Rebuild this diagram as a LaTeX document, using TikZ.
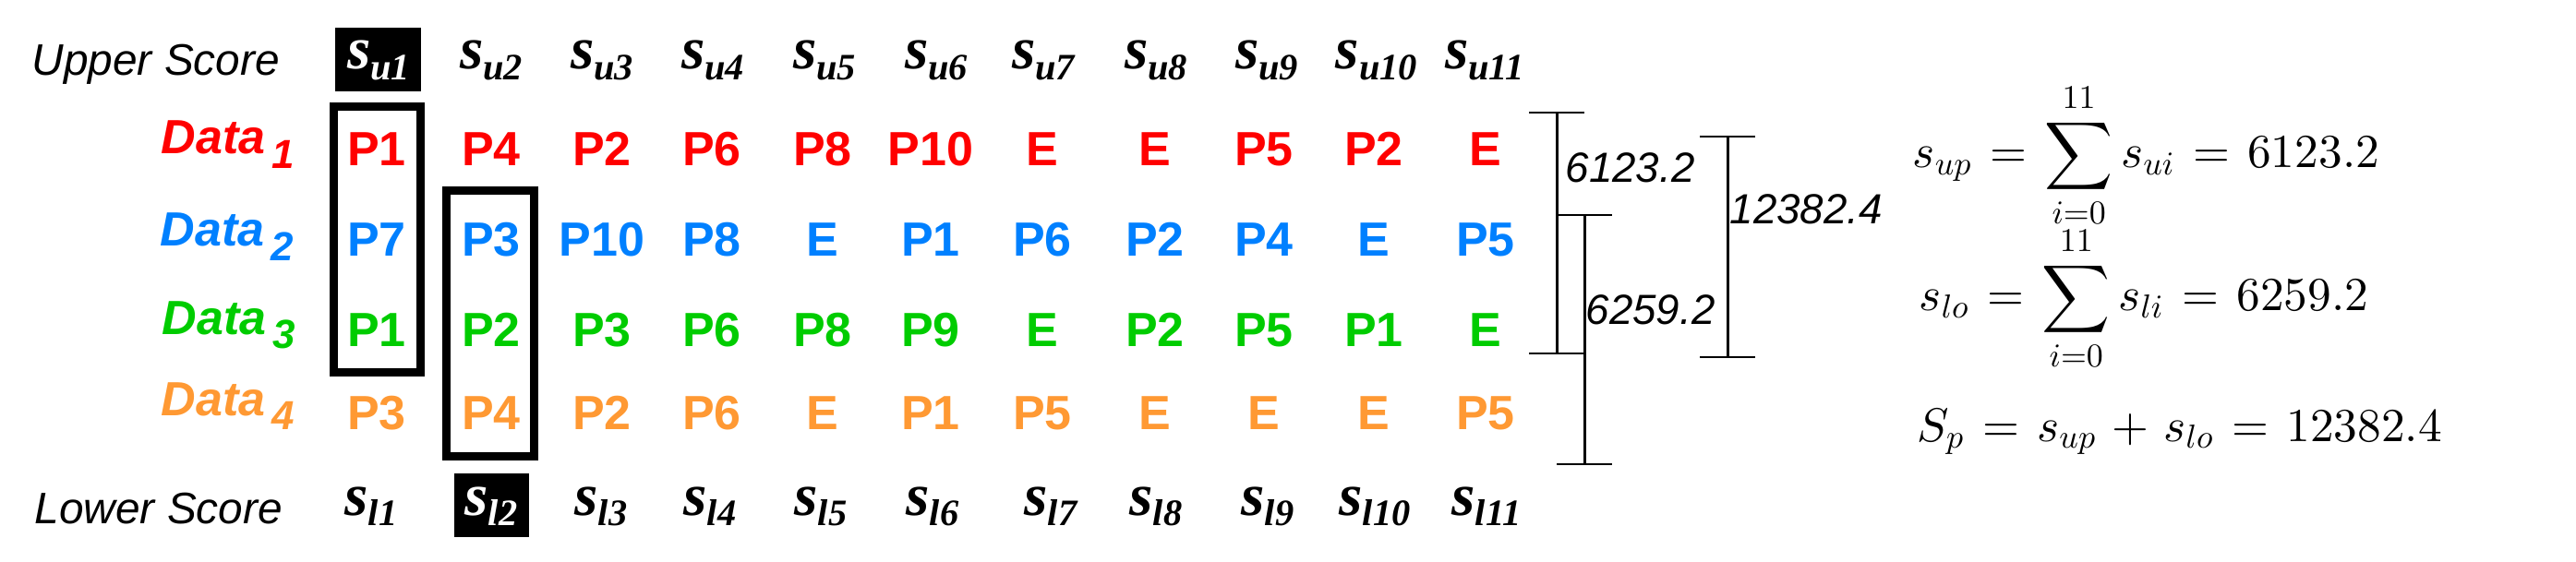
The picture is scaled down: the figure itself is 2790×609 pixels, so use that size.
\documentclass[tikz,border=0pt]{standalone}
\usepackage{fontspec}
\usepackage{amsmath}
\DeclareFontShape{OT1}{cmr}{m}{n}{<->cmr10}{}
\DeclareFontShape{OML}{cmm}{m}{it}{<->cmmi10}{}
\DeclareFontShape{OMS}{cmsy}{m}{n}{<->cmsy10}{}
\DeclareFontShape{OMX}{cmex}{m}{n}{<->cmex10}{}
\newfontfamily\arialf{Liberation Sans}
\newfontfamily\tnrf{Liberation Serif}
\definecolor{cred}{RGB}{255,0,0}
\definecolor{cblue}{RGB}{0,128,255}
\definecolor{cgreen}{RGB}{0,204,0}
\definecolor{corange}{RGB}{255,153,51}
\newcommand\scl[1]{\tnrf\bfseries\itshape\fontsize{18.5}{18.5}\selectfont s\raisebox{-3.4pt}{\fontsize{11.5}{11.5}\selectfont #1}}
\newcommand\datalab[1]{\arialf\bfseries\itshape\fontsize{14.8}{14.8}\selectfont Data\kern2pt\raisebox{-4.3pt}{\fontsize{12.5}{12.5}\selectfont #1}}
\newcommand\eqspacing{\thickmuskip=6.75mu\medmuskip=5.75mu}
\begin{document}
\begin{tikzpicture}[x=0.1mm,y=-0.1mm,
  pl/.style={anchor=base,inner sep=0pt,font=\arialf\bfseries\fontsize{14.8}{14.8}\selectfont},
  sc/.style={anchor=base,inner sep=0pt},
  dl/.style={anchor=base west,inner sep=0pt},
  rowlab/.style={anchor=base west,inner sep=0pt,font=\arialf\itshape\fontsize{13.6}{13.6}\selectfont},
  errlab/.style={anchor=base west,inner sep=0pt,font=\arialf\itshape\fontsize{13}{13}\selectfont},
  bar/.style={line width=0.85pt},
  selbox/.style={line width=2.6pt},
  eq/.style={anchor=base west,inner sep=0pt,font=\fontsize{14.6}{18}\selectfont}]
\useasboundingbox (0,0) rectangle (2790,609);

% row labels
\node[rowlab] (upper) at (34,82) {Upper Score};
\node[rowlab] (lower) at (37,567) {Lower Score};
\node[dl,text=cred] (d1) at (174,167) {\datalab{1}};
\node[dl,text=cblue] (d2) at (173,267) {\datalab{2}};
\node[dl,text=cgreen] (d3) at (175,362) {\datalab{3}};
\node[dl,text=corange] (d4) at (174,450) {\datalab{4}};

% black highlight boxes
\fill[black] (363,30) rectangle (456,99);
\fill[black] (492,513) rectangle (573,582);

% upper scores
\def\ux{{410,532,652,772,893,1014,1130,1252,1372,1491,1608}}
\foreach \i in {1,...,11}{
  \pgfmathsetmacro\cx{\ux[\i-1]}
  \ifnum\i=1
    \node[sc,text=white] (u\i) at (\cx,75) {\scl{u\i}};
  \else
    \node[sc] (u\i) at (\cx,75) {\scl{u\i}};
  \fi
}
% lower scores
\def\lx{{402,532,651,769,889,1010,1138,1252,1373,1489,1610}}
\foreach \i in {1,...,11}{
  \pgfmathsetmacro\cx{\lx[\i-1]}
  \ifnum\i=2
    \node[sc,text=white] (l\i) at (\cx,558) {\scl{l\i}};
  \else
    \node[sc] (l\i) at (\cx,558) {\scl{l\i}};
  \fi
}

% data rows
\def\colx{{408,532,652,771,891,1008,1129,1251,1369,1488,1609}}
\foreach \t [count=\i] in {P1,P4,P2,P6,P8,P10,E,E,P5,P2,E}{
  \pgfmathsetmacro\cx{\colx[\i-1]}
  \node[pl,text=cred] (ra\i) at (\cx,180) {\t};
}
\foreach \t [count=\i] in {P7,P3,P10,P8,E,P1,P6,P2,P4,E,P5}{
  \pgfmathsetmacro\cx{\colx[\i-1]}
  \node[pl,text=cblue] (rb\i) at (\cx,278) {\t};
}
\foreach \t [count=\i] in {P1,P2,P3,P6,P8,P9,E,P2,P5,P1,E}{
  \pgfmathsetmacro\cx{\colx[\i-1]}
  \node[pl,text=cgreen] (rc\i) at (\cx,375) {\t};
}
\foreach \t [count=\i] in {P3,P4,P2,P6,E,P1,P5,E,E,E,P5}{
  \pgfmathsetmacro\cx{\colx[\i-1]}
  \node[pl,text=corange] (rd\i) at (\cx,465) {\t};
}

% selection boxes
\draw[selbox] (361.5,115.5) rectangle (455.5,403.5);
\draw[selbox] (483.5,206.5) rectangle (578.5,494.5);

% error bars
\coordinate (b1t) at (1686,122);
\coordinate (b1b) at (1686,383);
\coordinate (b2t) at (1716,233);
\coordinate (b2b) at (1716,503);
\coordinate (b3t) at (1871,148);
\coordinate (b3b) at (1871,387);
\draw[bar] (b1t) -- (b1b);
\draw[bar] (b1t) ++(-30,0) -- ++(60,0);
\draw[bar] (b1b) ++(-30,0) -- ++(60,0);
\draw[bar] (b2t) -- (b2b);
\draw[bar] (b2t) ++(-30,0) -- ++(60,0);
\draw[bar] (b2b) ++(-30,0) -- ++(60,0);
\draw[bar] (b3t) -- (b3b);
\draw[bar] (b3t) ++(-30,0) -- ++(60,0);
\draw[bar] (b3b) ++(-30,0) -- ++(60,0);
\node[errlab] (e1) at (1695,198) {6123.2};
\node[errlab] (e2) at (1717,352) {6259.2};
\node[errlab] (e3) at (1873,243) {12382.4};

% equations
\node[eq] (equp) at (2071,182) {$\eqspacing\displaystyle s_{up} = \sum_{i=0}^{11} s_{ui} = 6123.2$};
\node[eq] (eqlo) at (2078,337) {$\eqspacing\displaystyle s_{lo} = \sum_{i=0}^{11} s_{li} = 6259.2$};
\node[eq] (eqp) at (2076,478) {$\eqspacing S_p = s_{up} + s_{lo} = 12382.4$};
\end{tikzpicture}
\end{document}
